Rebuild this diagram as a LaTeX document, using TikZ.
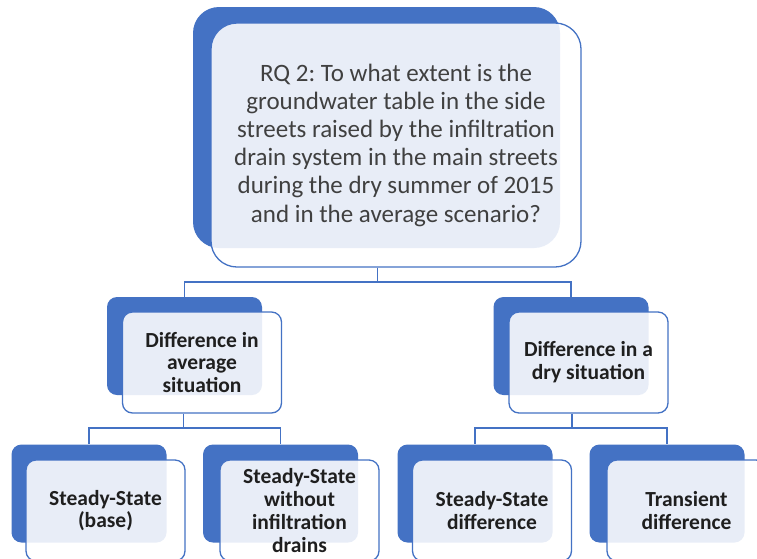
\documentclass[tikz,border=0pt]{standalone}
\usepackage{fontspec}
\setmainfont{Carlito}
\frenchspacing
\definecolor{sablue}{HTML}{4472C4}
\definecolor{txtgray}{HTML}{404040}
\definecolor{txtdark}{HTML}{1F1F1F}
\tikzset{
  backbox/.style={fill=sablue, draw=none, rounded corners=10pt, inner sep=0pt},
  frontbox/.style={fill=white, fill opacity=0.88, text opacity=1, draw=sablue, line width=1.3pt, rounded corners=10pt, inner sep=0pt, align=center},
  smallback/.style={backbox, minimum width=155pt, minimum height=98pt},
  smallfront/.style={frontbox, minimum width=159pt, minimum height=101pt, text=txtdark, font=\fontsize{21.5}{22.8}\selectfont\bfseries},
  conn/.style={draw=sablue, line width=1.2pt}
}
\begin{document}
\begin{tikzpicture}[x=1pt,y=-1pt]
\useasboundingbox (0,0) rectangle (757,558);
\fill[white] (0,0) rectangle (757,558);
\clip (0,0) rectangle (757,558);
% top
\node[backbox, rounded corners=26pt, minimum width=367pt, minimum height=241pt] (b0) at (376.5,127.5) {};
\node[frontbox, rounded corners=26pt, minimum width=370pt, minimum height=244pt, text=txtgray, font=\fontsize{25}{28.2}\selectfont] (f0) at (396,145)
  {RQ 2: To what extent is the\\groundwater table in the side\\streets raised by the infiltration\\drain system in the main streets\\during the dry summer of 2015\\and in the average scenario?};
% level 2
\node[smallback] (b1) at (184.5,346) {};
\node[smallfront] (f1) at (202,362.5) {Difference in\\average\\situation};
\node[smallback] (b2) at (571,346) {};
\node[smallfront] (f2) at (588.5,362.5) {Difference in a\\dry situation};
% level 3
\node[smallback] (b3) at (89,493.5) {};
\node[smallfront] (f3) at (105.5,510.5) {Steady-State\\(base)};
\node[smallback] (b4) at (280.5,493.5) {};
\node[smallfront] (f4) at (299.5,510.5) {Steady-State\\without\\infiltration\\drains};
\node[smallback] (b5) at (475,493.5) {};
\node[smallfront] (f5) at (492,510.5) {Steady-State\\difference};
\node[smallback] (b6) at (667,493.5) {};
\node[smallfront] (f6) at (686.5,510.5) {Transient\\difference};
% connectors
\coordinate (j0) at (377.5,282);
\coordinate (j1) at (183.5,428);
\coordinate (j2) at (572,428);
\draw[conn] (f0.south -| j0) -- (j0);
\draw[conn] (j0) -| (b1.north);
\draw[conn] (j0) -| (b2.north);
\draw[conn] (f1.south -| j1) -- (j1);
\draw[conn] (j1) -| (b3.north);
\draw[conn] (j1) -| (b4.north);
\draw[conn] (f2.south -| j2) -- (j2);
\draw[conn] (j2) -| (b5.north);
\draw[conn] (j2) -| (b6.north);
\end{tikzpicture}
\end{document}
